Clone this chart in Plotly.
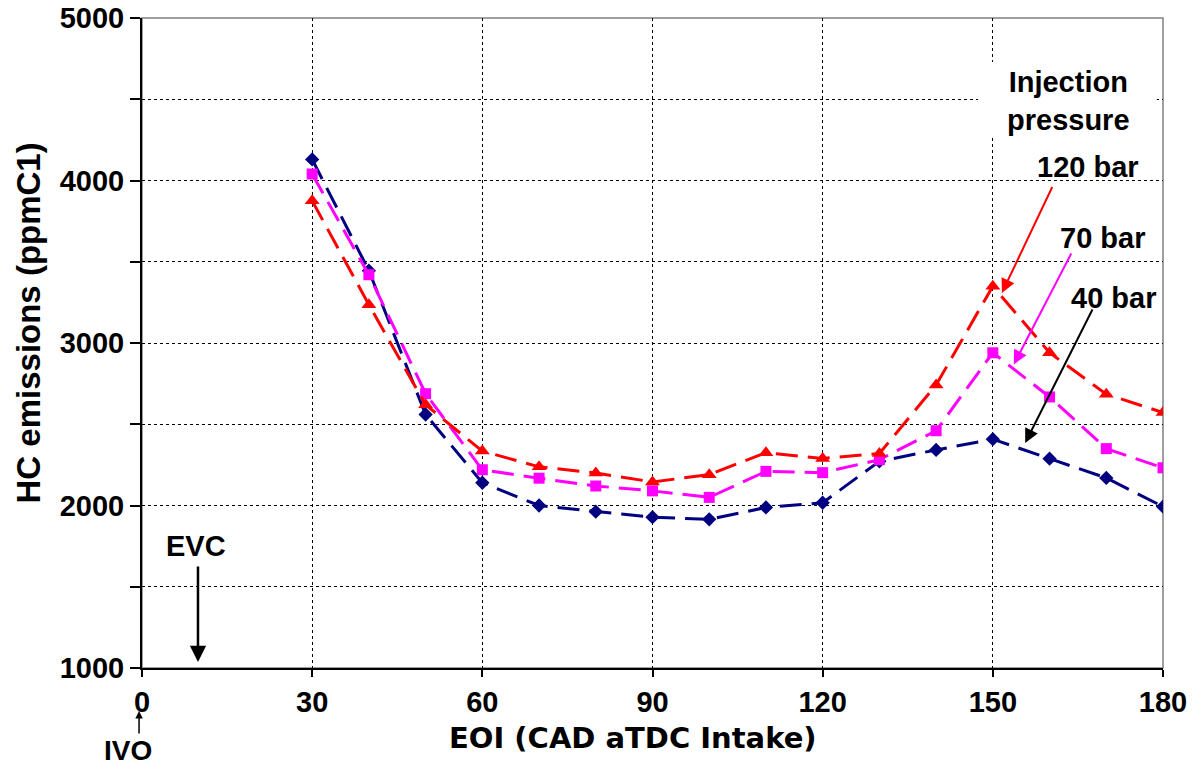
import plotly.graph_objects as go

eoi = [30, 40, 50, 60, 70, 80, 90, 100, 110, 120, 130, 140, 150, 160, 170, 180]
hc_40bar = [4130, 3445, 2560, 2140, 2000, 1962, 1928, 1915, 1988, 2017, 2272, 2342, 2408, 2288, 2170, 1993]
hc_70bar = [4040, 3420, 2688, 2220, 2168, 2120, 2090, 2050, 2210, 2202, 2282, 2460, 2940, 2668, 2350, 2232]
hc_120bar = [3875, 3235, 2620, 2335, 2238, 2200, 2145, 2190, 2325, 2290, 2320, 2742, 3350, 2940, 2685, 2572]

x_ticks = [0, 30, 60, 90, 120, 150, 180]
y_tickvals = [1000, 1500, 2000, 2500, 3000, 3500, 4000, 4500, 5000]
y_ticktext = ["1000", "", "2000", "", "3000", "", "4000", "", "5000"]

FONT = "Liberation Sans, Arial, sans-serif"
WIDE = "DejaVu Sans, Verdana, sans-serif"

fig = go.Figure()
fig.add_trace(go.Scatter(x=eoi, y=hc_40bar, mode="lines+markers", name="40 bar",
                         line=dict(color="#000080", width=3, dash="22px,10px"),
                         marker=dict(symbol="diamond", size=11, color="#000080")))
fig.add_trace(go.Scatter(x=eoi, y=hc_70bar, mode="lines+markers", name="70 bar",
                         line=dict(color="#FF00FF", width=3, dash="22px,10px"),
                         marker=dict(symbol="square", size=11, color="#FF00FF")))
fig.add_trace(go.Scatter(x=eoi, y=hc_120bar, mode="lines+markers", name="120 bar",
                         line=dict(color="#FF0000", width=3, dash="22px,10px"),
                         marker=dict(symbol="triangle-up", size=13, color="#FF0000")))

ann_font = dict(family=FONT, size=29, color="black")
annotations = [
    # axis titles
    dict(x=-0.111, y=0.531, xref="paper", yref="paper", text="<b>HC emissions (ppmC1)</b>", textangle=-90,
         showarrow=False, xanchor="center", yanchor="middle",
         font=dict(family=FONT, size=33, color="black")),
    dict(x=0.4809, y=-0.108, xref="paper", yref="paper", text="<b>EOI (CAD aTDC Intake)</b>",
         showarrow=False, xanchor="center", yanchor="middle",
         font=dict(family=WIDE, size=29, color="black")),
    # legend-like labels
    dict(x=163.3, y=4490, xref="x", yref="y", text="<b>Injection<br>pressure</b>", showarrow=False,
         font=ann_font),
    dict(x=166.8, y=4085, xref="x", yref="y", text="<b>120 bar</b>", showarrow=False, font=ann_font),
    dict(x=169.3, y=3645, xref="x", yref="y", text="<b>70 bar</b>", showarrow=False, font=ann_font),
    dict(x=171.2, y=3280, xref="x", yref="y", text="<b>40 bar</b>", showarrow=False, font=ann_font),
    dict(x=151.6, y=3308, ax=160.6, ay=3969, xref="x", yref="y", axref="x", ayref="y", text="",
         showarrow=True, arrowhead=2, arrowsize=1.4, arrowwidth=2, arrowcolor="#FF0000"),
    dict(x=153.7, y=2868, ax=163.96, ay=3560, xref="x", yref="y", axref="x", ayref="y", text="",
         showarrow=True, arrowhead=2, arrowsize=1.4, arrowwidth=2, arrowcolor="#FF00FF"),
    dict(x=155.7, y=2385, ax=167.7, ay=3215, xref="x", yref="y", axref="x", ayref="y", text="",
         showarrow=True, arrowhead=2, arrowsize=1.4, arrowwidth=2, arrowcolor="black"),
    # EVC / IVO markers
    dict(x=9.5, y=1751, xref="x", yref="y", text="<b>EVC</b>", showarrow=False, font=ann_font),
    dict(x=9.87, y=1037, ax=9.87, ay=1634, xref="x", yref="y", axref="x", ayref="y", text="",
         showarrow=True, arrowhead=2, arrowsize=1.3, arrowwidth=2.5, arrowcolor="black"),
    dict(x=-0.0137, y=-0.1262, xref="paper", yref="paper", text="<b>IVO</b>", showarrow=False,
         xanchor="center", yanchor="middle", font=dict(family=FONT, size=28, color="black")),
    dict(x=-0.0029, y=-0.0662, ax=0, ay=24, xref="paper", yref="paper", text="",
         showarrow=True, arrowhead=2, arrowsize=1.0, arrowwidth=1.5, arrowcolor="black"),
]

shapes = [
    dict(type="rect", xref="paper", yref="paper", x0=0, x1=1, y0=0, y1=1,
         line=dict(color="#808080", width=1.5), fillcolor="rgba(0,0,0,0)", layer="between"),
    dict(type="rect", xref="x", yref="y", x0=147.4, x1=178.9, y0=4268, y1=4729,
         line=dict(width=0), fillcolor="white", layer="between"),
]

fig.update_layout(
    width=1194, height=768,
    margin=dict(l=142, r=31, t=18, b=100, autoexpand=False),
    plot_bgcolor="white", paper_bgcolor="white",
    showlegend=False,
    font=dict(family=FONT, color="black"),
    annotations=annotations,
    shapes=shapes,
)
fig.update_xaxes(range=[0, 180], tickvals=x_ticks, ticks="outside", ticklen=7, tickcolor="black",
                 tickwidth=1.5, automargin=False,
                 showgrid=True, gridcolor="black", griddash="dot", gridwidth=1,
                 showline=True, linecolor="black", linewidth=2, zeroline=False,
                 tickfont=dict(family=FONT, size=29, color="black", weight="bold"))
fig.update_yaxes(range=[1000, 5000], tickvals=y_tickvals, ticktext=y_ticktext, ticks="outside",
                 ticklen=10, tickcolor="black", tickwidth=1.5, automargin=False,
                 showgrid=True, gridcolor="black", griddash="dot", gridwidth=1,
                 showline=True, linecolor="black", linewidth=2, zeroline=False,
                 tickfont=dict(family=FONT, size=29, color="black", weight="bold"))

fig.write_html("out.html")
